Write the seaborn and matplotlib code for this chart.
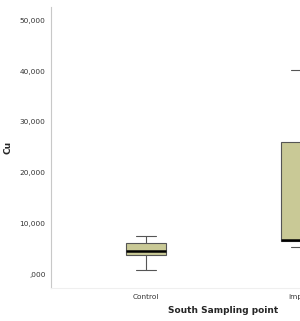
import seaborn as sns
import matplotlib.pyplot as plt
import pandas as pd

sns.set_style("white")
plt.rcParams["font.family"] = ["DejaVu Sans"]

# values (5 points each -> whisker ends, quartiles, median)
control_cu = [850, 3800, 4650, 6100, 7540]
impact_cu = [5430, 6550, 6850, 25980, 40160]
categories = ["Control", "impact"]
ytick_values = [0, 10000, 20000, 30000, 40000, 50000]
ytick_labels = [",000", "10,000", "20,000", "30,000", "40,000", "50,000"]

data = pd.DataFrame({
    "South Sampling point": [categories[0]] * len(control_cu) + [categories[1]] * len(impact_cu),
    "Cu": control_cu + impact_cu,
})

fig = plt.figure(figsize=(3.0, 3.21), dpi=100)
# axes runs past the right edge, as in the cropped reference
ax = fig.add_axes([51 / 300, 33 / 321, 344 / 300, 281 / 321])

sns.boxplot(
    data=data, x="South Sampling point", y="Cu", order=categories,
    color="#C9C996", saturation=1, width=0.255, whis=10,
    linecolor="#555555", linewidth=0.8,
    medianprops={"color": "black", "linewidth": 1.8},
    ax=ax,
)

ax.set_xlim(-0.613, 1.606)
ax.set_ylim(-2697, 52618)
ax.set_yticks(ytick_values)
ax.set_yticklabels(ytick_labels)

for s in ["top", "right"]:
    ax.spines[s].set_visible(False)
ax.spines["left"].set_color("#C8C8C8")
ax.spines["left"].set_linewidth(0.8)
ax.spines["bottom"].set_color("#EFEFEF")
ax.spines["bottom"].set_linewidth(0.8)

ax.tick_params(axis="y", length=3, width=0.8, color="#333333", labelsize=5.3,
               labelcolor="#333333", pad=1)
ax.tick_params(axis="x", length=2.5, width=0.8, color="#333333", labelsize=5.3,
               labelcolor="#333333", pad=2)

ax.set_xlabel("South Sampling point", fontsize=6.5, fontweight="bold", labelpad=4)
ax.set_ylabel("Cu", fontsize=6.5, fontweight="bold", labelpad=5)

plt.savefig("out.png")
plt.close()
